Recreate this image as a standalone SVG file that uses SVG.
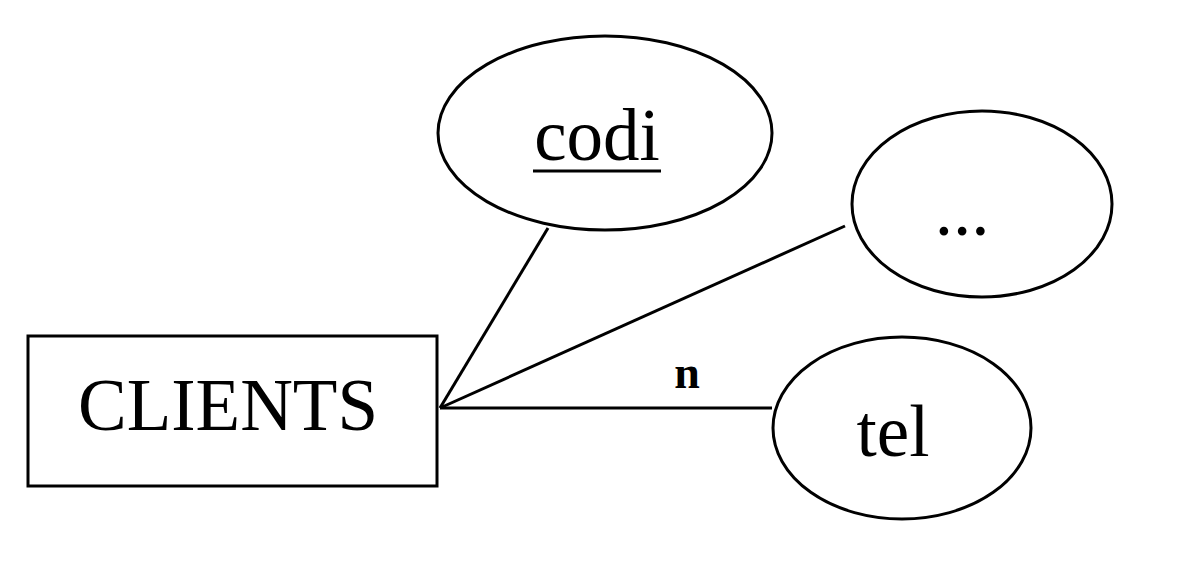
<svg xmlns="http://www.w3.org/2000/svg" width="1180" height="582" viewBox="0 0 1180 582">
<style>
.s{fill:#fff;stroke:#000;stroke-width:3}
.t{font-family:"Liberation Serif",serif;font-size:73px;text-anchor:middle;fill:#000}
.c line{stroke:#000;stroke-width:3}
</style>
<rect width="1180" height="582" fill="#fff"/>
<g class="c" id="connectors">
<line x1="440" y1="408" x2="548" y2="228"/>
<line x1="440" y1="408" x2="845" y2="226"/>
<line x1="440" y1="408" x2="772" y2="408"/>
<text x="687" y="388" class="t" style="font-weight:bold;font-size:46px">n</text>
</g>
<g id="clients"><rect class="s" x="28" y="336" width="409" height="150"/><text class="t" x="228" y="430">CLIENTS</text></g>
<g id="codi"><ellipse class="s" cx="605" cy="133" rx="167" ry="97"/><text class="t" x="597" y="160">codi</text><line x1="533" y1="171" x2="661" y2="171" stroke="#000" stroke-width="3"/></g>
<g id="dots"><ellipse class="s" cx="982" cy="204" rx="130" ry="93"/><text class="t" x="962" y="235">...</text></g>
<g id="tel"><ellipse class="s" cx="902" cy="428" rx="129" ry="91"/><text class="t" x="893" y="456">tel</text></g>
</svg>
